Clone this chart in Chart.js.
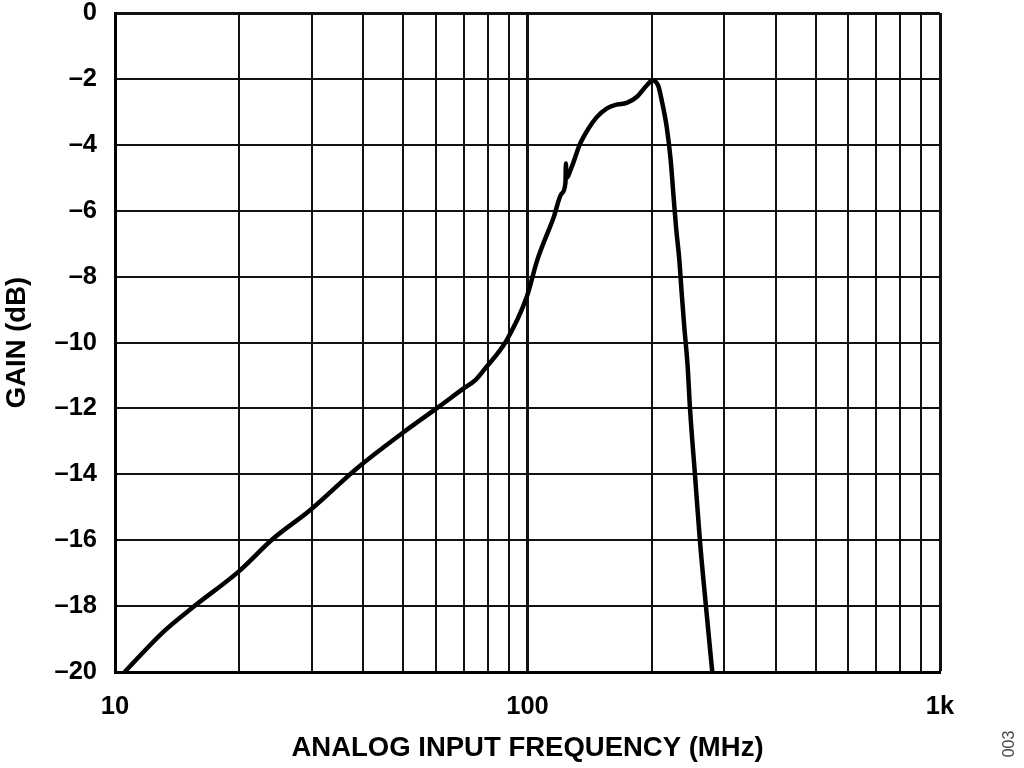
<!DOCTYPE html>
<html>
<head>
<meta charset="utf-8">
<script src="https://cdn.jsdelivr.net/npm/chart.js@4/dist/chart.umd.min.js"></script>
<style>
  html, body { margin: 0; padding: 0; background: #fff; }
  canvas { display: block; }
</style>
</head>
<body>
<canvas id="gainCanvas" width="1024" height="768"></canvas>
<script>
// frequency response (MHz, dB)
const freqMHz = [10.55, 13.1, 15.5, 19.9, 24.2, 29.7, 38.5, 49.5, 60.2, 69.9, 74.6, 78.8, 88.9, 99.5, 105.6,
  115.8, 121.0, 123.6, 123.9, 124.3, 128.0, 134.0, 140.5, 147.2, 155.5, 164.5, 174.0, 183.9, 194.5, 201.0,
  207.6, 211.5, 217.5, 222.4, 225.7, 229.1, 233.4, 236.5, 239.9, 244.5, 247.7, 254.7, 261.9, 270.8, 280.5];
const gainDb = [-20.0, -18.78, -18.02, -16.96, -15.95, -15.09, -13.83, -12.77, -12.0, -11.4, -11.15, -10.8, -9.94, -8.63, -7.5,
  -6.19, -5.48, -5.15, -4.57, -5.0, -4.67, -3.98, -3.51, -3.16, -2.9, -2.78, -2.73, -2.55, -2.2, -2.05,
  -2.22, -2.65, -3.46, -4.47, -5.48, -6.49, -7.5, -8.51, -9.52, -10.73, -12.0, -14.02, -16.04, -18.01, -20.0];

// log grid positions and which of them get a label
const xGridValues = [10, 20, 30, 40, 50, 60, 70, 80, 90, 100, 200, 300, 400, 500, 600, 700, 800, 900, 1000];
const xTickLabels = { 10: '10', 100: '100', 1000: '1k' };

const FONT = "'Liberation Sans', Arial, Helvetica, sans-serif";

let points = [];
for (let i = 0; i < freqMHz.length; i++) {
    points.push({ x: freqMHz[i], y: gainDb[i] });
}

// little figure number on the right edge
const figNumber = {
    id: 'figNumber',
    afterDraw(chart) {
        let c = chart.ctx;
        c.save();
        c.translate(1010, 744);
        c.rotate(-Math.PI / 2);
        c.font = '16px ' + FONT;
        c.fillStyle = '#444';
        c.textAlign = 'center';
        c.textBaseline = 'middle';
        c.fillText('003', 0, 0);
        c.restore();
    }
};

let ctx = document.getElementById('gainCanvas').getContext('2d');
let gainChart = new Chart(ctx, {
    type: 'scatter',
    data: {
        datasets: [{
            label: 'Gain',
            data: points,
            showLine: true,
            borderColor: '#000',
            borderWidth: 4.5,
            pointRadius: 0,
            cubicInterpolationMode: 'monotone',
            fill: false
        }]
    },
    options: {
        responsive: false,
        animation: false,
        layout: {
            padding: { top: 13, right: 84, bottom: 0, left: 0 }
        },
        plugins: {
            legend: { display: false },
            tooltip: { enabled: false }
        },
        scales: {
            x: {
                type: 'logarithmic',
                min: 10,
                max: 1000,
                afterBuildTicks: function (scale) {
                    scale.ticks = xGridValues.map(function (v) { return { value: v }; });
                },
                afterFit: function (scale) { scale.height = 96; },
                ticks: {
                    autoSkip: false,
                    maxRotation: 0,
                    padding: 22,
                    color: '#000',
                    font: { family: FONT, size: 25.5, weight: 'bold', lineHeight: 1 },
                    callback: function (value) {
                        return xTickLabels[value] || '';
                    }
                },
                grid: {
                    drawTicks: false,
                    color: '#111',
                    lineWidth: function (c) {
                        if (!c.tick) return 2;
                        return (c.tick.value === 100 || c.tick.value === 1000) ? 3 : 2;
                    }
                },
                border: { display: true, color: '#000', width: 3 },
                title: {
                    display: true,
                    text: 'ANALOG INPUT FREQUENCY (MHz)',
                    color: '#000',
                    padding: { top: 0, bottom: 3 },
                    font: { family: FONT, size: 27.5, weight: 'bold' }
                }
            },
            y: {
                type: 'linear',
                min: -20,
                max: 0,
                afterFit: function (scale) {
                    // keep the label overhang from pushing the plot area down
                    scale.width = 115;
                    scale.paddingTop = 0;
                    scale.paddingBottom = 0;
                },
                ticks: {
                    stepSize: 2,
                    padding: 18,
                    color: '#000',
                    font: { family: FONT, size: 25.5, weight: 'bold', lineHeight: 1 },
                    callback: function (value) {
                        return value === 0 ? '0' : '\u2013' + Math.abs(value);
                    }
                },
                grid: {
                    drawTicks: false,
                    color: '#111',
                    lineWidth: function (c) {
                        if (!c.tick) return 2;
                        return c.tick.value === 0 ? 3 : 2;
                    }
                },
                border: { display: true, color: '#000', width: 3 },
                title: {
                    display: true,
                    text: 'GAIN (dB)',
                    color: '#000',
                    padding: { top: 1, bottom: 0 },
                    font: { family: FONT, size: 27.5, weight: 'bold' }
                }
            }
        }
    },
    plugins: [figNumber]
});
</script>
</body>
</html>
